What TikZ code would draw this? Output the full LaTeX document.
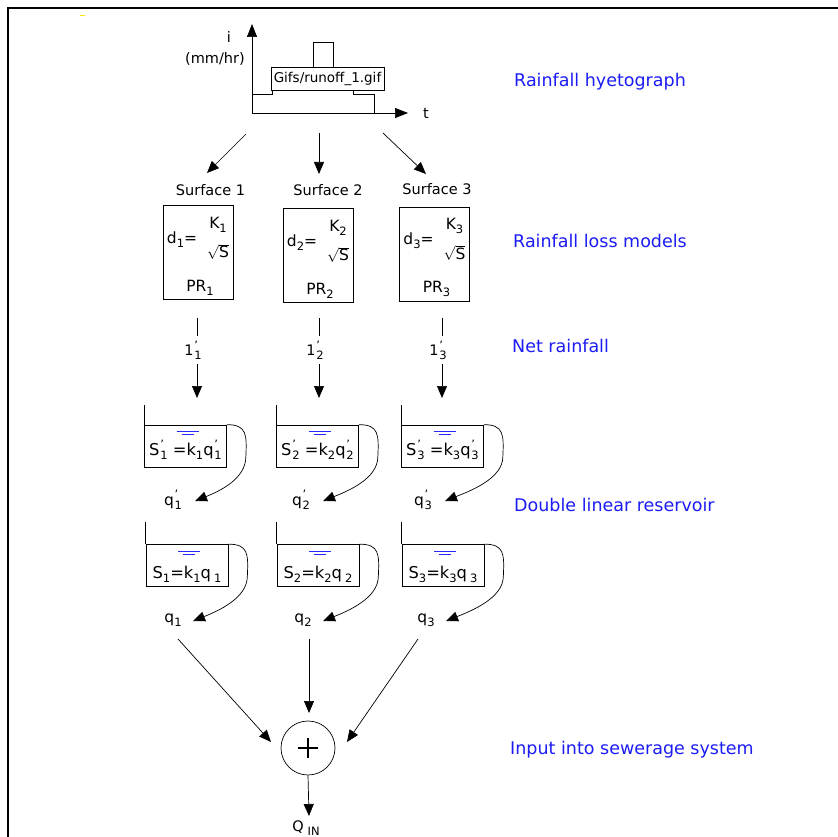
\documentclass[tikz,border=0pt]{standalone}
\usepackage{fontspec}
\setmainfont{DejaVu Sans}
\usetikzlibrary{arrows.meta}
\definecolor{labelblue}{RGB}{28,28,245}
\definecolor{water}{RGB}{40,40,255}
% lowered index and primed index
\newcommand\lo[1]{\raisebox{-0.45ex}{\fontsize{11.5}{11.5}\selectfont #1}}
\newcommand\pq[2]{#1\kern0.8pt\makebox[0pt][l]{\raisebox{0.8ex}{\fontsize{11.5}{11.5}\selectfont '}}\raisebox{-0.45ex}{\fontsize{11.5}{11.5}\selectfont #2}}
\begin{document}
\begin{tikzpicture}[x=1pt,y=-1pt,
  lbl/.style={text=labelblue, font=\fontsize{17.5}{20}\selectfont, anchor=west, inner sep=0},
  txt/.style={font=\fontsize{14.5}{17}\selectfont, inner sep=0},
  big/.style={font=\fontsize{15.5}{18}\selectfont, inner sep=0},
  eq/.style={font=\fontsize{16.3}{18}\selectfont, inner sep=0},
  ln/.style={line width=0.7pt},
  arr/.style={ln, -{Triangle[length=12pt,width=10pt]}},
  axis/.style={ln, -{Triangle[length=13pt,width=10pt]}},
  model/.style={draw, ln, minimum width=70pt, minimum height=94pt, inner sep=0},
  tank/.style={draw, ln, minimum width=82pt, minimum height=42pt, inner sep=0},
  waterline/.style={draw=water, line width=0.9pt}]
\useasboundingbox (0,0) rectangle (838,837);
\fill[white] (0,0) rectangle (838,837);

% outer frame
\draw[line width=2pt] (838,8) -- (8,8) -- (8,838);
\draw[yellow!85!orange, line width=1.2pt] (80,15.5) -- (85,15.5);

% rainfall hyetograph
\coordinate (o) at (252,113);
\draw[axis] (o) -- (252,24);
\draw[axis] (o) -- (408,113);
\node[draw, ln, fill=white, minimum width=113pt, minimum height=23pt, inner sep=0,
      font=\fontsize{13.5}{16}\selectfont] (gif) at (327.5,78.5) {Gifs/runoff\_1.gif};
\draw[ln] (252,94) -- (272,94) -- (272,90);
\draw[ln] (313,67) -- (313,42) -- (333,42) -- (333,67);
\draw[ln] (353,90) -- (353,94) -- (374,94) -- (374,113);
\node[txt] (i) at (229,37) {i};
\node[txt] (unit) at (215,59) {(mm/hr)};
\node[txt] (t) at (426,113) {t};

% stage labels
\node[lbl] (l1) at (514,82) {Rainfall hyetograph};
\node[lbl] (l2) at (513,241) {Rainfall loss models};
\node[lbl] (l3) at (512,346) {Net rainfall};
\node[lbl] (l4) at (514,505) {Double linear reservoir};
\node[lbl] (l5) at (510,750) {Input into sewerage system};

% arrows from the hyetograph to the surfaces
\coordinate (hs1) at (246,134); \coordinate (he1) at (207,173);
\coordinate (hs2) at (319,133); \coordinate (he2) at (319,174);
\coordinate (hs3) at (383,133); \coordinate (he3) at (426,174);
\foreach \i in {1,2,3} \draw[arr] (hs\i) -- (he\i);

% one column per surface
\foreach \i/\bx/\by/\ax/\sx/\sy/\ra/\rb/\ta/\tb in
  {1/198/252.5/197/210.5/190/186/187.5/195/193,
   2/318/255.5/319/328/190/318/318.5/323/323,
   3/434.5/254/442/437/189/443/443.5/445/446}{
  \node[txt] (sf\i) at (\sx,\sy) {Surface \i};
  % loss model
  \node[model] (m\i) at (\bx,\by) {};
  \node[big] (d\i) at ([shift={(-16,-13)}]m\i.center) {d\lo{\i}=};
  \node[big] (k\i) at ([shift={(20,-28)}]m\i.center) {K\lo{\i}};
  \node[big] (s\i) at ([shift={(20,-1)}]m\i.center) {$\sqrt{\mbox{S}}$};
  \node[big] (pr\i) at ([shift={(2,35)}]m\i.center) {PR\lo{\i}};
  % net rainfall
  \coordinate (na\i) at (\ax,318);
  \coordinate (nb\i) at (\ax,336);
  \coordinate (nc\i) at (\ax,364);
  \coordinate (nd\i) at (\ax,398);
  \node[txt] (nr\i) at (\ax-4,350) {\pq{1}{\i}};
  \draw[ln] (na\i) -- (nb\i);
  \draw[arr] (nc\i) -- (nd\i);
  % first reservoir
  \node[tank] (ta\i) at (\ra-0.5,446) {};
  \draw[ln] (ta\i.north west) -- ++(0,-20);
  \draw[waterline] ([shift={(-9,7)}]ta\i.north) -- ([shift={(13,7)}]ta\i.north);
  \draw[waterline] ([shift={(-4,10)}]ta\i.north) -- ([shift={(8,10)}]ta\i.north);
  \node[eq] (ea\i) at ([shift={(0,25)}]ta\i.north) {\pq{S}{\i} =k\lo{\i}\pq{q}{\i}};
  \node[big] (qa\i) at (\ta-22,500) {\pq{q}{\i}};
  \coordinate (pa\i) at (\ta,501);
  \coordinate (ma\i) at ([shift={(19,32)}]ta\i.north east);
  \draw[arr] (ta\i.north east) .. controls +(20,0) and +(1,-22) .. (ma\i)
             .. controls +(0,22) and +(25,-10) .. (pa\i);
  % second reservoir
  \node[tank] (tb\i) at (\rb-0.5,565.5) {};
  \draw[ln] (tb\i.north west) -- ++(0,-22);
  \draw[waterline] ([shift={(-9,7)}]tb\i.north) -- ([shift={(13,7)}]tb\i.north);
  \draw[waterline] ([shift={(-4,10)}]tb\i.north) -- ([shift={(8,10)}]tb\i.north);
  \node[eq] (eb\i) at ([shift={(0,30)}]tb\i.north) {S\lo{\i}=k\lo{\i}q\hspace{3pt}\lo{\i}};
  \node[big] (qb\i) at (\tb-20,620) {q\lo{\i}};
  \coordinate (pb\i) at (\tb,621);
  \coordinate (mb\i) at ([shift={(19,32)}]tb\i.north east);
  \draw[arr] (tb\i.north east) .. controls +(20,0) and +(1,-22) .. (mb\i)
             .. controls +(0,22) and +(25,-10) .. (pb\i);
}

% summation into the sewerage system
\node[draw, ln, circle, minimum size=54pt, inner sep=0] (sum) at (308,748) {};
\draw[line width=2.6pt] ([shift={(-10,0)}]sum.center) -- ([shift={(10,0)}]sum.center);
\draw[line width=2.6pt] ([shift={(0,-10)}]sum.center) -- ([shift={(0,10)}]sum.center);
\coordinate (in1) at (178,639); \coordinate (tip1) at (271,742);
\coordinate (in2) at (309,639); \coordinate (tip2) at (309,713);
\coordinate (in3) at (418,639); \coordinate (tip3) at (347,742);
\foreach \i in {1,2,3} \draw[arr] (in\i) -- (tip\i);
\coordinate (tipq) at (309,816);
\draw[arr] (sum.south) -- (tipq);
\node[txt] (qin) at (306,828) {Q\hspace{4pt}\lo{IN}};
\end{tikzpicture}
\end{document}
